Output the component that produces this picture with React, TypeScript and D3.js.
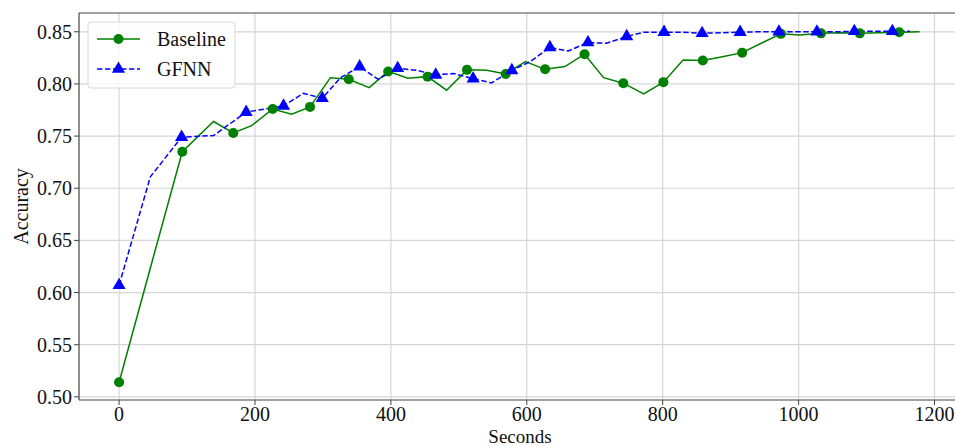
import React from "react";
import * as d3 from "d3";

const baselineX = [0, 47, 93, 139, 168, 195, 226, 254, 281, 311, 338, 368, 396, 425, 454, 482, 512, 541, 569, 598, 627, 656, 685, 713, 742, 772, 801, 830, 859, 888, 917, 945, 974, 1002, 1033, 1062, 1090, 1119, 1148, 1178];
const baselineY = [0.514, 0.626, 0.735, 0.764, 0.753, 0.760, 0.776, 0.771, 0.778, 0.806, 0.8045, 0.7965, 0.812, 0.8055, 0.807, 0.794, 0.8135, 0.813, 0.8096, 0.8214, 0.814, 0.8166, 0.8285, 0.806, 0.8007, 0.7905, 0.8017, 0.823, 0.8224, 0.826, 0.830, 0.839, 0.848, 0.847, 0.8485, 0.849, 0.8485, 0.849, 0.8496, 0.850];

const gfnnX = [0, 46, 92, 139, 187, 215, 242, 271, 299, 326, 354, 381, 410, 438, 466, 492, 521, 548, 578, 605, 634, 661, 690, 717, 747, 772, 802, 830, 858, 886, 914, 942, 971, 999, 1027, 1054, 1082, 1110, 1138, 1164];
const gfnnY = [0.607, 0.711, 0.749, 0.7505, 0.773, 0.776, 0.779, 0.791, 0.7863, 0.806, 0.8166, 0.8045, 0.815, 0.813, 0.8087, 0.810, 0.805, 0.801, 0.813, 0.8214, 0.835, 0.8316, 0.8397, 0.839, 0.8455, 0.8496, 0.8496, 0.8495, 0.8486, 0.849, 0.8496, 0.850, 0.850, 0.850, 0.850, 0.850, 0.8505, 0.8505, 0.8505, 0.8505];

const xTicks = [0, 200, 400, 600, 800, 1000, 1200];
const yTicks = [0.5, 0.55, 0.6, 0.65, 0.7, 0.75, 0.8, 0.85];
const seriesNames = ["Baseline", "GFNN"];

const W = 955;
const H = 446;
const left = 79;
const right = 961;
const top = 13;
const bottom = 400;
const FONT = "'Liberation Serif', 'DejaVu Serif', serif";

export default function App() {
  const x = d3.scaleLinear().domain([-59, 1239]).range([left, right]);
  const y = d3.scaleLinear().domain([0.497, 0.868]).range([bottom, top]);

  const baseData = baselineX.map((v, i) => [v, baselineY[i]] as [number, number]);
  const gfnnData = gfnnX.map((v, i) => [v, gfnnY[i]] as [number, number]);
  const line = d3.line<[number, number]>().x(d => x(d[0])).y(d => y(d[1]));

  const tri = d3.symbol().type(d3.symbolTriangle).size(75)() as string;

  const gridColor = "#d6d6d6";
  const spine = "#444";

  return (
    <svg width={W} height={H} style={{ position: "absolute", left: 0, top: 0, background: "#fff" }} fontFamily={FONT}>
      <defs>
        <clipPath id="plot">
          <rect x={left} y={top} width={right - left} height={bottom - top} />
        </clipPath>
      </defs>
      <rect x={0} y={0} width={W} height={H} fill="#fff" />
      {/* grid */}
      {xTicks.map(t => (
        <line key={"gx" + t} x1={x(t)} x2={x(t)} y1={top} y2={bottom} stroke={gridColor} strokeWidth={1.2} />
      ))}
      {yTicks.map(t => (
        <line key={"gy" + t} x1={left} x2={right} y1={y(t)} y2={y(t)} stroke={gridColor} strokeWidth={1.2} />
      ))}
      {/* series */}
      <g clipPath="url(#plot)">
        <path d={line(baseData) || ""} fill="none" stroke="#008000" strokeWidth={1.5} />
        <path d={line(gfnnData) || ""} fill="none" stroke="#0000ff" strokeWidth={1.5} strokeDasharray="5.5,2.5" />
      </g>
      {baseData.filter((_, i) => i % 2 === 0).map((d, i) => (
        <circle key={"bm" + i} cx={x(d[0])} cy={y(d[1])} r={5} fill="#008000" />
      ))}
      {gfnnData.filter((_, i) => i % 2 === 0).map((d, i) => (
        <path key={"gm" + i} d={tri} transform={`translate(${x(d[0])},${y(d[1])})`} fill="#0000ff" />
      ))}
      {/* spines */}
      <line x1={left} x2={right} y1={top} y2={top} stroke={spine} strokeWidth={1.2} />
      <line x1={left} x2={right} y1={bottom} y2={bottom} stroke={spine} strokeWidth={1.2} />
      <line x1={left} x2={left} y1={top} y2={bottom} stroke={spine} strokeWidth={1.2} />
      {/* ticks */}
      {xTicks.map(t => (
        <g key={"xt" + t}>
          <line x1={x(t)} x2={x(t)} y1={bottom} y2={bottom + 5} stroke={spine} strokeWidth={1} />
          <text x={x(t)} y={bottom + 21} textAnchor="middle" fontSize={20} fill="#111">{t}</text>
        </g>
      ))}
      {yTicks.map(t => (
        <g key={"yt" + t}>
          <line x1={left - 5} x2={left} y1={y(t)} y2={y(t)} stroke={spine} strokeWidth={1} />
          <text x={left - 7} y={y(t) + 7} textAnchor="end" fontSize={20} fill="#111">{t.toFixed(2)}</text>
        </g>
      ))}
      <text x={(left + right) / 2} y={442.5} textAnchor="middle" fontSize={19} fill="#111">Seconds</text>
      <text transform={`translate(28,${(top + bottom) / 2}) rotate(-90)`} textAnchor="middle" fontSize={20} fill="#111">Accuracy</text>
      {/* legend */}
      <rect x={88} y={22} width={147} height={66} rx={3} fill="#fff" fillOpacity={0.85} stroke="#d8d8d8" strokeWidth={1} />
      <line x1={97} x2={140} y1={39} y2={39} stroke="#008000" strokeWidth={1.5} />
      <circle cx={118.5} cy={39} r={5} fill="#008000" />
      <text x={157} y={46} fontSize={20} fill="#111">{seriesNames[0]}</text>
      <line x1={97} x2={140} y1={69} y2={69} stroke="#0000ff" strokeWidth={1.5} strokeDasharray="5.5,2.5" />
      <path d={tri} transform="translate(118.5,69)" fill="#0000ff" />
      <text x={157} y={76} fontSize={20} fill="#111">{seriesNames[1]}</text>
    </svg>
  );
}
